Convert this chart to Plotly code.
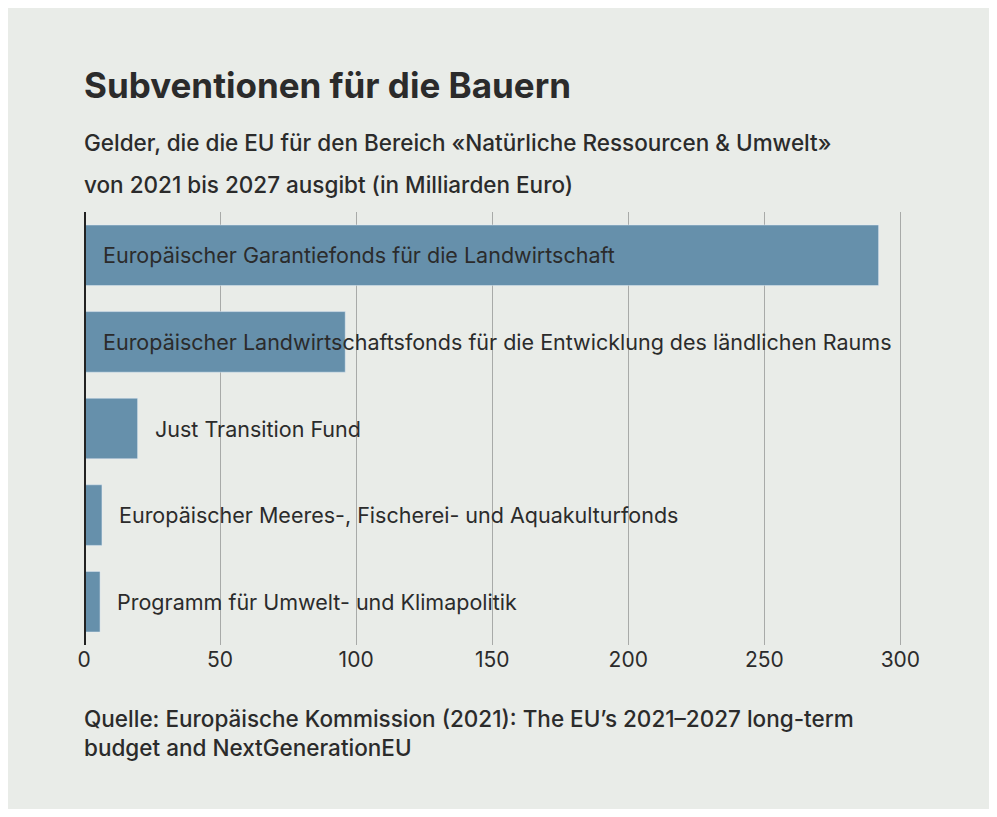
import plotly.graph_objects as go

categories = ["Europäischer Garantiefonds für die Landwirtschaft",
              "Europäischer Landwirtschaftsfonds für die Entwicklung des ländlichen Raums",
              "Just Transition Fund",
              "Europäischer Meeres-, Fischerei- und Aquakulturfonds",
              "Programm für Umwelt- und Klimapolitik"]
values = [292, 96, 19.7, 6.6, 5.9]
inside = [True, True, False, False, False]
tickvals = [0, 50, 100, 150, 200, 250, 300]

fig = go.Figure(go.Bar(y=categories, x=values, orientation="h",
                       marker_color="#6690ab", width=0.7, hoverinfo="skip"))
for c, v, ins in zip(categories, values, inside):
    fig.add_annotation(x=0 if ins else v, y=c, text=c, showarrow=False,
                       xanchor="left", xshift=17 if ins else 15,
                       font=dict(size=21.5, color="#2b2b2b"))

def head(text, yshift, size, weight):
    fig.add_annotation(xref="paper", yref="paper", x=-0.003, y=1.0, yshift=yshift,
                       xanchor="left", yanchor="middle", showarrow=False, align="left",
                       text=text, font=dict(size=size, color="#2b2b2b", weight=weight))

head("Subventionen für die Bauern", 127, 35, 700)
head("Gelder, die die EU für den Bereich «Natürliche Ressourcen & Umwelt»", 70, 22.5, 500)
head("von 2021 bis 2027 ausgibt (in Milliarden Euro)", 28, 22.5, 500)
fig.add_annotation(xref="paper", yref="paper", x=-0.003, y=0, yshift=-58,
                   xanchor="left", yanchor="top", showarrow=False, align="left",
                   text="Quelle: Europäische Kommission (2021): The EU’s 2021–2027 long-term<br>budget and NextGenerationEU",
                   font=dict(size=22.5, color="#2b2b2b", weight=500))

fig.update_layout(width=981, height=801, paper_bgcolor="#e9ece8", plot_bgcolor="#e9ece8",
                  margin=dict(l=76, r=87, t=204, b=164), showlegend=False,
                  font=dict(family="Inter, sans-serif", color="#2b2b2b"),
                  xaxis=dict(range=[0, 300.6], tickvals=tickvals, showgrid=True,
                             gridcolor="#a8aaa8", gridwidth=1, zeroline=False,
                             tickfont=dict(size=21, color="#2b2b2b"), ticks="", ticklen=0),
                  yaxis=dict(autorange="reversed", showticklabels=False, showgrid=False,
                             showline=False, zeroline=False))
fig.add_shape(type="line", xref="x", yref="paper", x0=0, x1=0, y0=0, y1=1,
              line=dict(color="#222", width=4))
fig.write_html("out.html")
